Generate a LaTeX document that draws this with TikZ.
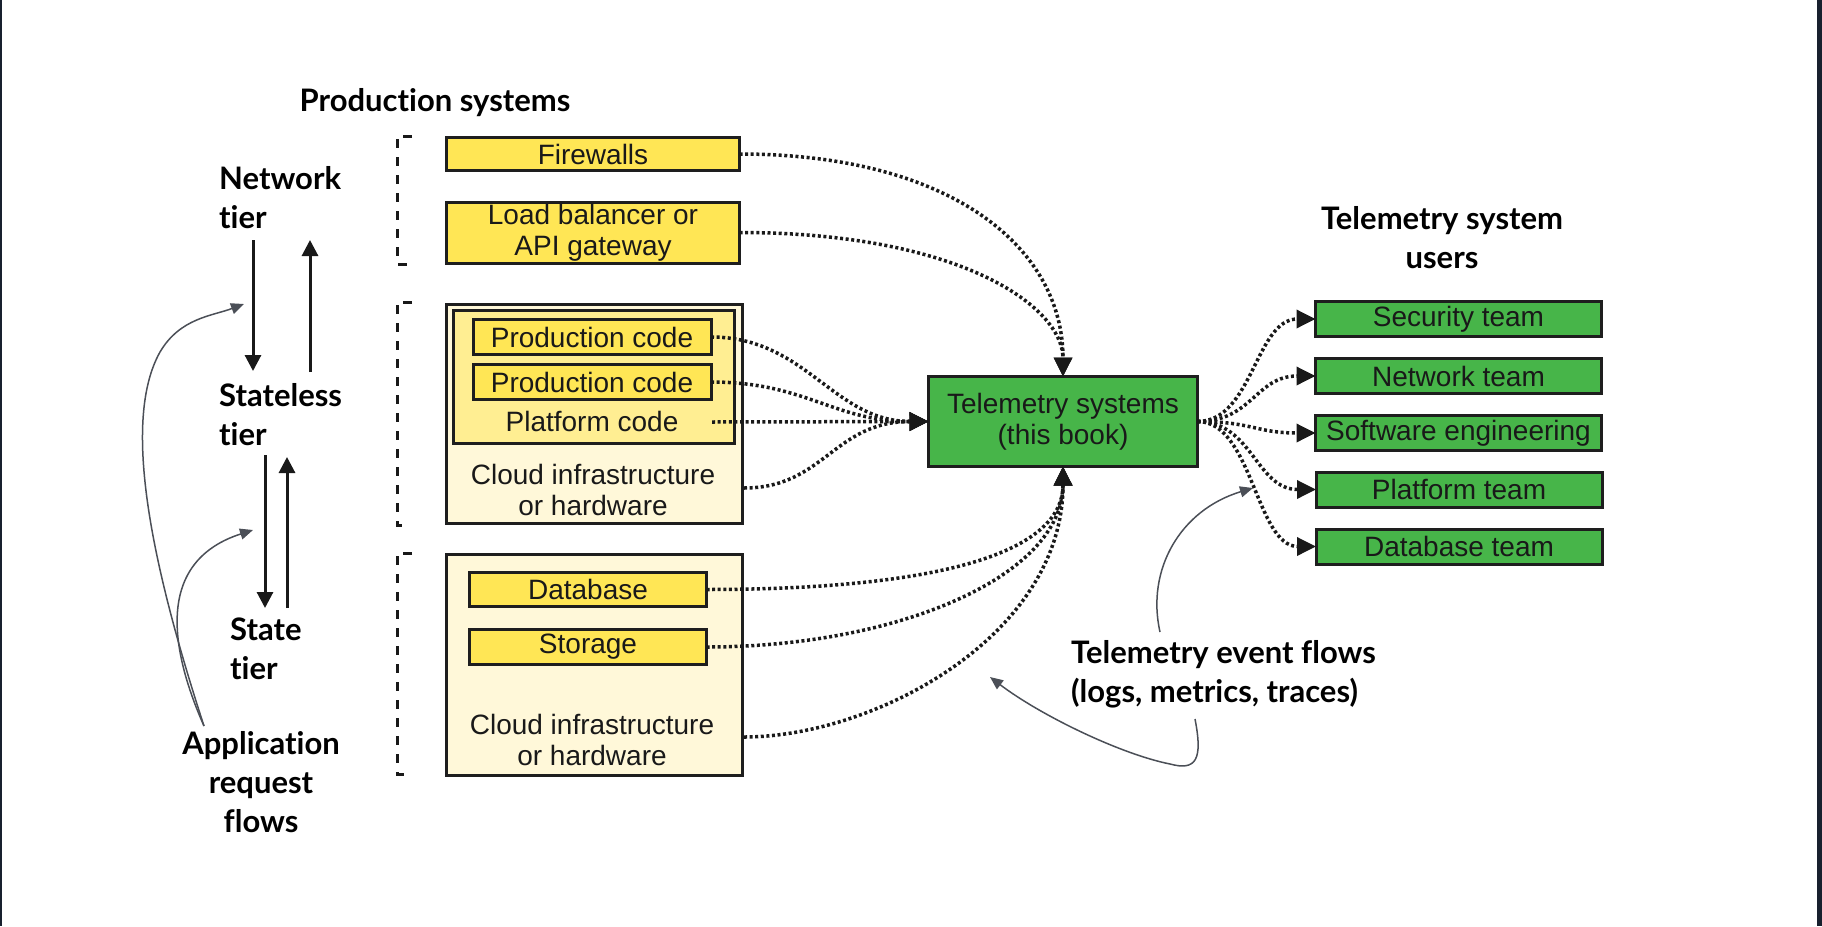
\documentclass[tikz,border=0pt]{standalone}
\usepackage{fontspec}
\setmainfont{Liberation Sans}
\newfontfamily\latofont{Lato}[Ligatures=NoCommon]
\usetikzlibrary{arrows.meta}
\definecolor{boxyellow}{HTML}{FFE655}
\definecolor{platyellow}{HTML}{FFEE92}
\definecolor{cloudyellow}{HTML}{FFF8D9}
\definecolor{teamgreen}{HTML}{47B549}
\definecolor{boxedge}{HTML}{1E1E1E}
\definecolor{edgenavy}{HTML}{18202E}
\definecolor{notegray}{HTML}{4B4F57}
\tikzset{
  basebox/.style={draw=boxedge, line width=3pt, inner sep=0pt, outer sep=0pt,
    align=center, text=black!90, font=\fontsize{28}{31}\selectfont},
  ybox/.style={basebox, fill=boxyellow},
  pbox/.style={basebox, fill=platyellow},
  cbox/.style={basebox, fill=cloudyellow},
  gbox/.style={basebox, fill=teamgreen},
  boxtext/.style={inner sep=0pt, align=center, text=black!90, font=\fontsize{28}{31}\selectfont},
  heading/.style={inner sep=0pt, text=black, font=\latofont\bfseries\fontsize{31}{39}\selectfont},
  flow/.style={line width=3.5pt, draw=black!90, dash pattern=on 3pt off 2.6pt,
    -{Triangle[length=19pt,width=18pt]}},
  tierarrow/.style={line width=3pt, draw=black!90, -{Triangle[length=16pt,width=16pt]}},
  notearrow/.style={line width=1.5pt, draw=notegray, -{Triangle[length=13pt,width=11pt]}},
  bracket/.style={line width=3pt, draw=black!90, dash pattern=on 9pt off 9pt},
}
\begin{document}
\begin{tikzpicture}[x=1pt,y=-1pt]
\path[use as bounding box] (0,0) rectangle (1822,926);
\fill[edgenavy] (0,0) rectangle (1.5,926);
\fill[edgenavy] (1817,0) rectangle (1822,926);

% headings
\node[heading, anchor=north] (prodtitle) at (435,88) {Production systems};
\node[heading, anchor=north west, align=left] (nettier) at (219,166) {Network\\tier};
\node[heading, anchor=north west, align=left] (slesstier) at (219,383) {Stateless\\tier};
\node[heading, anchor=north west, align=left] (statetier) at (230,618) {State\\tier};
\node[heading, anchor=north, align=center] (appflows) at (261,731) {Application\\request\\flows};
\node[heading, anchor=north, align=center] (userstitle) at (1442,206) {Telemetry system\\users};
\node[heading, anchor=north west, align=left] (evflows) at (1071,640) {Telemetry event flows\\(logs, metrics, traces)};

% brackets
\draw[bracket] (412,136) -- (397,136) -- (397,264) -- (407,264);
\draw[bracket] (412,302) -- (397,302) -- (397,525) -- (407,525);
\draw[bracket] (412,553) -- (397,553) -- (397,774) -- (407,774);

% production boxes
\node[ybox, minimum width=293pt, minimum height=33pt] (fw) at (593,154) {Firewalls};
\node[ybox, minimum width=293pt, minimum height=61pt] (lb) at (593,232.5) {Load balancer or\\API gateway};
\node[cbox, minimum width=296pt, minimum height=219pt] (cloudA) at (594.5,413.5) {};
\node[pbox, minimum width=281pt, minimum height=133pt] (plat) at (593.5,376.5) {};
\node[ybox, minimum width=238pt, minimum height=35pt] (pcA) at (592,337) {Production code};
\node[ybox, minimum width=238pt, minimum height=35pt] (pcB) at (592,382) {Production code};
\node[boxtext] (platlbl) at (592,421) {Platform code};
\node[boxtext] (cloudAlbl) at (593,490) {Cloud infrastructure\\or hardware};
\node[cbox, minimum width=296pt, minimum height=221pt] (cloudB) at (594.5,664.5) {};
\node[ybox, minimum width=237pt, minimum height=34pt] (db) at (588,589.5) {Database};
\node[ybox, minimum width=237pt, minimum height=35pt] (st) at (588,647) {Storage};
\node[boxtext] (cloudBlbl) at (592,740) {Cloud infrastructure\\or hardware};

% telemetry
\node[gbox, minimum width=269pt, minimum height=90pt] (tele) at (1063,421.5) {Telemetry systems\\(this book)};

% teams
\node[gbox, minimum width=286pt, minimum height=35pt] (sec) at (1458.5,319) {Security team};
\node[gbox, minimum width=286pt, minimum height=35pt] (netteam) at (1458.5,376) {Network team};
\node[gbox, minimum width=286pt, minimum height=35pt] (soft) at (1458.5,433) {Software engineering};
\node[gbox, minimum width=286pt, minimum height=35pt] (platteam) at (1459,489.5) {Platform team};
\node[gbox, minimum width=286pt, minimum height=35pt] (dbteam) at (1459,546.5) {Database team};

% coordinates
\coordinate (platout) at (712,422);
\coordinate (cloudAout) at (744,488);
\coordinate (cloudBout) at (744,737);
\coordinate (downAs) at (253,240); \coordinate (downAe) at (253,371);
\coordinate (upAs) at (310,372);   \coordinate (upAe) at (310,240);
\coordinate (downBs) at (265,455); \coordinate (downBe) at (265,608);
\coordinate (upBs) at (287,608);   \coordinate (upBe) at (287,457);
\coordinate (appstart) at (204,726);
\coordinate (appA) at (244,304);
\coordinate (appB) at (253,530);
\coordinate (evstartC) at (1160,632);
\coordinate (evC) at (1253,488);
\coordinate (evstartD) at (1195,719);
\coordinate (evD) at (990,677);

% tier arrows
\draw[tierarrow] (downAs) -- (downAe);
\draw[tierarrow] (upAs) -- (upAe);
\draw[tierarrow] (downBs) -- (downBe);
\draw[tierarrow] (upBs) -- (upBe);

% note arrows
\draw[notearrow] (appstart) .. controls (150,560) and (122,420) .. (160,352)
   .. controls (180,318) and (212,316) .. (appA);
\draw[notearrow] (appstart) .. controls (166,640) and (160,560) .. (appB);
\draw[notearrow] (evstartC) .. controls (1146,570) and (1180,510) .. (evC);
\draw[notearrow] (evstartD) .. controls (1203,760) and (1196,771) .. (1170,764)
   .. controls (1120,754) and (1040,715) .. (evD);

% flows into telemetry
\draw[flow] (fw.east) .. controls +(210,0) and +(0,-130) .. (tele.north);
\draw[flow] (lb.east) .. controls +(220,0) and +(0,-70) .. (tele.north);
\draw[flow] (pcA.east) .. controls +(95,0) and +(-95,0) .. (tele.west);
\draw[flow] (pcB.east) .. controls +(95,0) and +(-95,0) .. (tele.west);
\draw[flow] (platout) -- (tele.west);
\draw[flow] (cloudAout) .. controls +(80,0) and +(-95,0) .. (tele.west);
\draw[flow] (db.east) .. controls +(220,0) and +(0,90) .. (tele.south);
\draw[flow] (st.east) .. controls +(190,0) and +(0,110) .. (tele.south);
\draw[flow] (cloudBout) .. controls +(130,0) and +(0,170) .. (tele.south);

% flows to users
\draw[flow] (tele.east) .. controls +(55,0) and +(-60,0) .. (sec.west);
\draw[flow] (tele.east) .. controls +(55,0) and +(-60,0) .. (netteam.west);
\draw[flow] (tele.east) .. controls +(55,0) and +(-60,0) .. (soft.west);
\draw[flow] (tele.east) .. controls +(55,0) and +(-60,0) .. (platteam.west);
\draw[flow] (tele.east) .. controls +(55,0) and +(-60,0) .. (dbteam.west);
\end{tikzpicture}
\end{document}
